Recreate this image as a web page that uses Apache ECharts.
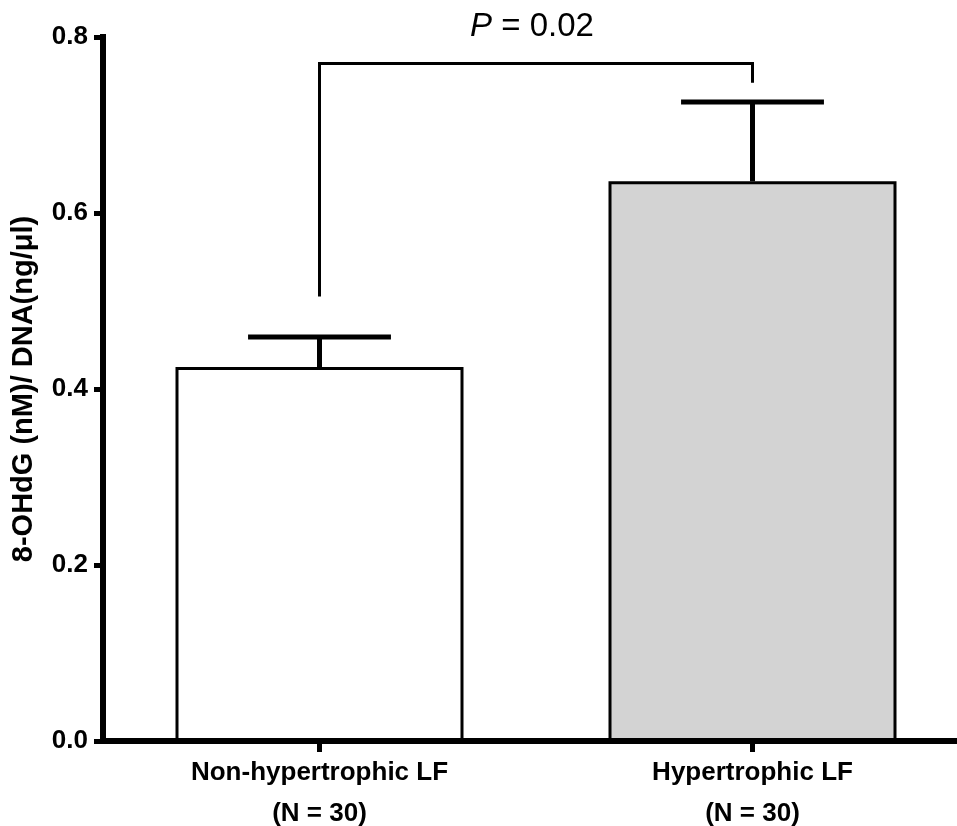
<!DOCTYPE html>
<html>
<head>
<meta charset="utf-8">
<script src="https://cdn.jsdelivr.net/npm/echarts@6/dist/echarts.min.js"></script>
<style>
html,body{margin:0;padding:0;background:#fff;}
#chart{width:957px;height:826px;}
</style>
</head>
<body>
<div id="chart"></div>
<script>
// ---- data ----
const categories = ['Non-hypertrophic LF\n(N = 30)', 'Hypertrophic LF\n(N = 30)'];
const means = [0.425, 0.636];
const sems = [0.034, 0.090];
const barColors = ['#ffffff', '#d3d3d3'];
const yTicks = [0.0, 0.2, 0.4, 0.6, 0.8];
const yAxisTitle = '8-OHdG (nM)/ DNA(ng/\u03bcl)';
// bracket: [left category, right category, left leg bottom, bracket top, right leg bottom]
const bracket = [0, 1, 0.505, 0.770, 0.748];
const pValueText = '0.02';

const FONT = '"Liberation Sans", Arial, Helvetica, sans-serif';
const chart = echarts.init(document.getElementById('chart'), null, {renderer: 'canvas'});

const option = {
  backgroundColor: '#ffffff',
  animation: false,
  grid: {left: 103, top: 37, width: 866, height: 704, containLabel: false, outerBoundsMode: 'none'},
  xAxis: {
    type: 'category',
    data: categories,
    z: 10,
    axisLine: {show: true, lineStyle: {color: '#000', width: 6}},
    axisTick: {show: true, alignWithLabel: true, length: 11, lineStyle: {color: '#000', width: 5}},
    axisLabel: {
      margin: 11,
      color: '#000',
      fontFamily: FONT,
      fontWeight: 'bold',
      fontSize: 26,
      lineHeight: 41,
      align: 'center'
    },
    splitLine: {show: false}
  },
  yAxis: {
    type: 'value',
    min: yTicks[0],
    max: yTicks[yTicks.length - 1],
    interval: 0.2,
    z: 10,
    name: yAxisTitle,
    nameLocation: 'middle',
    nameGap: 65,
    nameRotate: 90,
    nameTextStyle: {color: '#000', fontFamily: FONT, fontWeight: 'bold', fontSize: 29},
    axisLine: {show: true, lineStyle: {color: '#000', width: 6, cap: 'square'}},
    axisTick: {show: true, length: 9, lineStyle: {color: '#000', width: 5}},
    axisLabel: {
      margin: 15,
      color: '#000',
      fontFamily: FONT,
      fontWeight: 'bold',
      fontSize: 26,
      formatter: v => v.toFixed(1)
    },
    splitLine: {show: false}
  },
  series: [
    {
      type: 'bar',
      barWidth: 288,
      z: 2,
      data: means.map((m, i) => ({
        value: m,
        itemStyle: {color: barColors[i], borderColor: '#000', borderWidth: 3}
      }))
    },
    {
      type: 'custom',
      z: 3,
      data: means.map((m, i) => [i, m, m + sems[i]]),
      renderItem: function (params, api) {
        const x = api.value(0);
        const base = api.coord([x, api.value(1)]);
        const top = api.coord([x, api.value(2)]);
        const half = api.size([1, 0])[0] * 0.165;
        return {
          type: 'group',
          children: [
            {type: 'line', shape: {x1: base[0], y1: base[1], x2: top[0], y2: top[1]},
             style: {stroke: '#000', lineWidth: 5}},
            {type: 'line', shape: {x1: top[0] - half, y1: top[1], x2: top[0] + half, y2: top[1]},
             style: {stroke: '#000', lineWidth: 5}}
          ]
        };
      }
    },
    {
      type: 'custom',
      z: 4,
      data: [bracket],
      renderItem: function (params, api) {
        const a = api.coord([api.value(0), api.value(2)]);
        const b = api.coord([api.value(0), api.value(3)]);
        const c = api.coord([api.value(1), api.value(3)]);
        const d = api.coord([api.value(1), api.value(4)]);
        return {
          type: 'group',
          children: [
            {type: 'polyline', shape: {points: [a, b, c, d]},
             style: {stroke: '#000', lineWidth: 3, fill: null, lineJoin: 'miter'}},
            {type: 'text', x: (b[0] + c[0]) / 2 - 4, y: b[1] - 20,
             style: {
               text: '{i|P} = ' + pValueText,
               fill: '#000',
               fontFamily: FONT,
               fontSize: 33,
               align: 'center',
               verticalAlign: 'bottom',
               rich: {i: {fontStyle: 'italic', fontFamily: FONT, fontSize: 33, fill: '#000'}}
             }}
          ]
        };
      }
    }
  ]
};
chart.setOption(option);
</script>
</body>
</html>
